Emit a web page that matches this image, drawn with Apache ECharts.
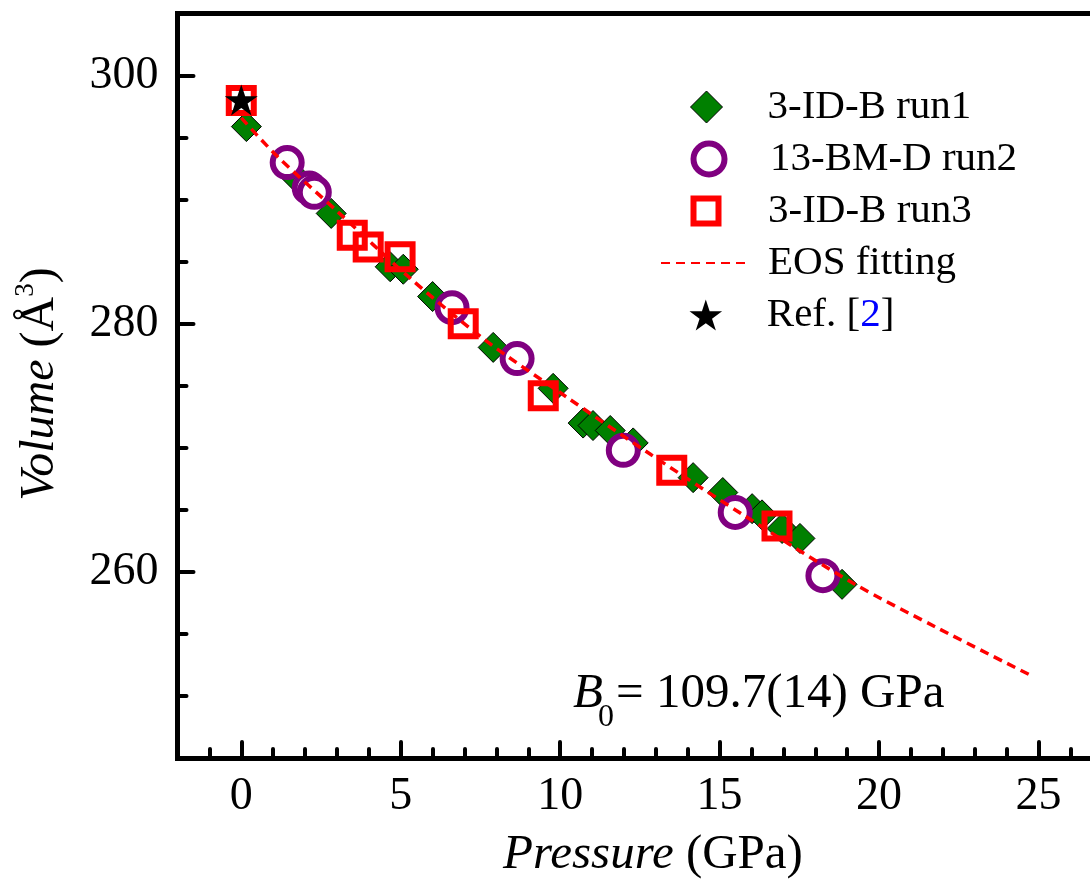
<!DOCTYPE html>
<html>
<head>
<meta charset="utf-8">
<script src="https://cdn.jsdelivr.net/npm/echarts@6/dist/echarts.min.js"></script>
<style>
  html, body { margin: 0; padding: 0; background: #ffffff; }
  #chart { width: 1090px; height: 882px; }
</style>
</head>
<body>
<div id="chart"></div>
<script>
const FONT = '"Liberation Serif", "Times New Roman", serif';

// Run 1, 3-ID-B: pressure (GPa) and unit-cell volume (Å^3)
const run1P = [0.16, 1.75, 2.82, 4.67, 5.08, 6.0, 7.9, 9.78, 10.72, 11.03, 11.57, 12.29, 14.17, 15.1, 16.02, 16.33, 16.96, 17.52, 18.84];
const run1V = [295.9, 291.7, 288.9, 284.6, 284.4, 282.2, 278.1, 274.8, 272.0, 271.8, 271.4, 270.4, 267.6, 266.4, 265.1, 264.6, 263.5, 262.7, 259.0];

// Run 2, 13-BM-D
const run2P = [1.44, 2.13, 2.29, 6.61, 8.65, 11.98, 15.49, 18.24];
const run2V = [293.0, 290.95, 290.6, 281.3, 277.2, 269.8, 264.8, 259.7];

// Run 3, 3-ID-B
const run3P = [0.0, 3.48, 3.98, 4.98, 6.96, 9.47, 13.5, 16.8];
const run3V = [298.0, 287.15, 286.2, 285.4, 280.0, 274.2, 268.2, 263.7];

// Equation-of-state fit curve
const eosP = [0.0, 1.13, 3.04, 5.24, 7.59, 10.2, 12.82, 15.86, 19.18, 21.82, 24.73];
const eosV = [296.6, 293.5, 289.0, 283.8, 278.8, 274.1, 269.5, 264.4, 259.1, 255.5, 251.7];

// Literature value at ambient pressure
const refP = [0.0];
const refV = [298.05];

// Axis ticks
const xMajorTicks = [0, 5, 10, 15, 20, 25];
const xMinorTicks = [-1, 1, 2, 3, 4, 6, 7, 8, 9, 11, 12, 13, 14, 16, 17, 18, 19, 21, 22, 23, 24, 26];
const yMajorTicks = [260, 280, 300];
const yMinorTicks = [250, 255, 265, 270, 275, 285, 290, 295];

const zip = (xs, ys) => xs.map((x, i) => [x, ys[i]]);

const STAR = 'path://M50 0 L61.23 34.55 L97.55 34.55 L68.17 55.9 L79.39 90.45 L50 69.1 L20.61 90.45 L31.83 55.9 L2.45 34.55 L38.77 34.55 Z';

const X_MIN = -2, X_MAX = 26.6, Y_MIN = 245, Y_MAX = 305;

const GREEN = '#008000', PURPLE = '#800080', RED = '#ff0000';

const chart = echarts.init(document.getElementById('chart'), null, { renderer: 'canvas' });

const axisLineStyle = { color: '#000', width: 5, cap: 'square' };
const tickLineStyle = { color: '#000', width: 4, cap: 'round' };

// One legend block per entry so every key gets its own icon size;
// icons share a centre column and the labels share a left edge.
const LEGEND_ICON_CX = 706, LEGEND_TEXT_X = 767, LEGEND_TOP = 84, LEGEND_ROW = 52;
const legendTextStyle = {
  color: '#000', fontSize: 41, fontFamily: FONT, lineHeight: 46,
  rich: {
    a: { color: '#000', fontSize: 41, fontFamily: FONT, lineHeight: 46 },
    b: { color: '#0000ff', fontSize: 41, fontFamily: FONT, lineHeight: 46 }
  }
};
function legendBlock(row, item, w, h, dx, textDx) {
  const left = LEGEND_ICON_CX - w / 2 + (dx || 0);
  return {
    orient: 'vertical',
    left: left,
    top: LEGEND_TOP + row * LEGEND_ROW,
    padding: 0,
    itemWidth: w,
    itemHeight: h,
    selectedMode: false,
    data: [item],
    formatter: name => name === 'Ref. [2]' ? '{a|Ref. [}{b|2}{a|]}' : name,
    textStyle: Object.assign({}, legendTextStyle, { padding: [0, 0, 0, LEGEND_TEXT_X - left - w - 5 + (textDx || 0)] })
  };
}

const option = {
  animation: false,
  backgroundColor: '#ffffff',
  grid: { left: 177.5, right: 0.5, top: 13.7, bottom: 124, containLabel: false },
  xAxis: [
    {
      type: 'value', min: X_MIN, max: X_MAX, position: 'bottom',
      axisLine: { show: true, onZero: false, lineStyle: axisLineStyle },
      axisTick: { show: true, inside: true, length: 16, lineStyle: tickLineStyle, customValues: xMajorTicks },
      axisLabel: { show: true, customValues: xMajorTicks, margin: 16, color: '#000', fontSize: 46, fontFamily: FONT },
      splitLine: { show: false }
    },
    {
      type: 'value', min: X_MIN, max: X_MAX, position: 'bottom',
      axisLine: { show: false, onZero: false },
      axisTick: { show: true, inside: true, length: 9, lineStyle: tickLineStyle, customValues: xMinorTicks },
      axisLabel: { show: false },
      splitLine: { show: false }
    },
    {
      type: 'value', min: X_MIN, max: X_MAX, position: 'top',
      axisLine: { show: true, onZero: false, lineStyle: axisLineStyle },
      axisTick: { show: false },
      axisLabel: { show: false },
      splitLine: { show: false }
    }
  ],
  yAxis: [
    {
      type: 'value', min: Y_MIN, max: Y_MAX, position: 'left',
      axisLine: { show: true, onZero: false, lineStyle: axisLineStyle },
      axisTick: { show: true, inside: true, length: 16, lineStyle: tickLineStyle, customValues: yMajorTicks },
      axisLabel: { show: true, customValues: yMajorTicks, margin: 19, color: '#000', fontSize: 46, fontFamily: FONT },
      splitLine: { show: false }
    },
    {
      type: 'value', min: Y_MIN, max: Y_MAX, position: 'left',
      axisLine: { show: false, onZero: false },
      axisTick: { show: true, inside: true, length: 9, lineStyle: tickLineStyle, customValues: yMinorTicks },
      axisLabel: { show: false },
      splitLine: { show: false }
    }
  ],
  legend: [
    legendBlock(0, { name: '3-ID-B run1', itemStyle: { color: GREEN, borderColor: '#000', borderWidth: 1, opacity: 1 } }, 32, 32),
    legendBlock(1, { name: '13-BM-D run2', itemStyle: { color: '#ffffff', borderColor: PURPLE, borderWidth: 6, opacity: 1 } }, 31, 31),
    legendBlock(2, { name: '3-ID-B run3', itemStyle: { color: 'rgba(255,255,255,0)', borderColor: RED, borderWidth: 6, opacity: 1 } }, 25, 25, -3, -2),
    legendBlock(3, { name: 'EOS fitting', itemStyle: { color: 'rgba(0,0,0,0)', borderColor: 'rgba(0,0,0,0)', borderWidth: 0, opacity: 0 } }, 90, 30, -1),
    legendBlock(4, { name: 'Ref. [2]', itemStyle: { color: '#000', borderWidth: 0, opacity: 1 } }, 33, 31)
  ],
  series: [
    {
      name: '3-ID-B run1', type: 'scatter', xAxisIndex: 0, yAxisIndex: 0,
      data: zip(run1P, run1V),
      symbol: 'diamond', symbolSize: 30,
      itemStyle: { color: GREEN, borderColor: '#000', borderWidth: 1, opacity: 1 },
      z: 2, silent: true
    },
    {
      name: '13-BM-D run2', type: 'scatter', xAxisIndex: 0, yAxisIndex: 0,
      data: zip(run2P, run2V),
      symbol: 'circle', symbolSize: 29,
      itemStyle: { color: '#ffffff', borderColor: PURPLE, borderWidth: 6, opacity: 1 },
      z: 3, silent: true
    },
    {
      name: '3-ID-B run3', type: 'scatter', xAxisIndex: 0, yAxisIndex: 0,
      data: zip(run3P, run3V),
      symbol: 'rect', symbolSize: 25,
      itemStyle: { color: 'rgba(255,255,255,0)', borderColor: RED, borderWidth: 6, opacity: 1 },
      z: 4, silent: true
    },
    {
      name: 'EOS fitting', type: 'line', xAxisIndex: 0, yAxisIndex: 0,
      data: zip(eosP, eosV),
      symbol: 'none', smooth: 0.3,
      itemStyle: { color: RED },
      lineStyle: { color: RED, width: 3.5, type: [9, 6] },
      z: 6, silent: true
    },
    {
      name: 'Ref. [2]', type: 'scatter', xAxisIndex: 0, yAxisIndex: 0,
      data: zip(refP, refV),
      symbol: STAR, symbolSize: [33, 31],
      itemStyle: { color: '#000', opacity: 1 },
      z: 5, silent: true
    }
  ],
  graphic: [
    {
      type: 'text', x: 653, y: 855, silent: true,
      style: {
        text: '{i|Pressure}{r| (GPa)}',
        align: 'center', textAlign: 'center', verticalAlign: 'middle', textVerticalAlign: 'middle',
        fill: '#000', fontSize: 49, fontFamily: FONT,
        rich: {
          i: { fontStyle: 'italic', fontSize: 49, fontFamily: FONT, fill: '#000', lineHeight: 56 },
          r: { fontSize: 49, fontFamily: FONT, fill: '#000', lineHeight: 56 }
        }
      }
    },
    {
      type: 'text', x: 40, y: 384, rotation: Math.PI / 2, silent: true,
      style: {
        text: '{i|Volume}{r| (Å}{s|3}{r|)}',
        align: 'center', textAlign: 'center', verticalAlign: 'middle', textVerticalAlign: 'middle',
        fill: '#000', fontSize: 48, fontFamily: FONT,
        rich: {
          i: { fontStyle: 'italic', fontSize: 48, fontFamily: FONT, fill: '#000', lineHeight: 56 },
          r: { fontSize: 48, fontFamily: FONT, fill: '#000', lineHeight: 56 },
          s: { fontSize: 27, fontFamily: FONT, fill: '#000', lineHeight: 18, verticalAlign: 'top' }
        }
      }
    },
    // Bulk modulus annotation: italic B, subscript 0, then the value
    {
      type: 'text', x: 573, y: 694, silent: true,
      style: {
        text: 'B', fontStyle: 'italic', fontSize: 49, fontFamily: FONT, fill: '#000',
        align: 'left', textAlign: 'left', verticalAlign: 'middle', textVerticalAlign: 'middle'
      }
    },
    {
      type: 'text', x: 598, y: 718, silent: true,
      style: {
        text: '0', fontSize: 32, fontFamily: FONT, fill: '#000',
        align: 'left', textAlign: 'left', verticalAlign: 'middle', textVerticalAlign: 'middle'
      }
    },
    {
      type: 'text', x: 616, y: 694, silent: true,
      style: {
        text: '= 109.7(14) GPa', fontSize: 49, fontFamily: FONT, fill: '#000',
        align: 'left', textAlign: 'left', verticalAlign: 'middle', textVerticalAlign: 'middle'
      }
    }
  ]
};

chart.setOption(option);
</script>
</body>
</html>
